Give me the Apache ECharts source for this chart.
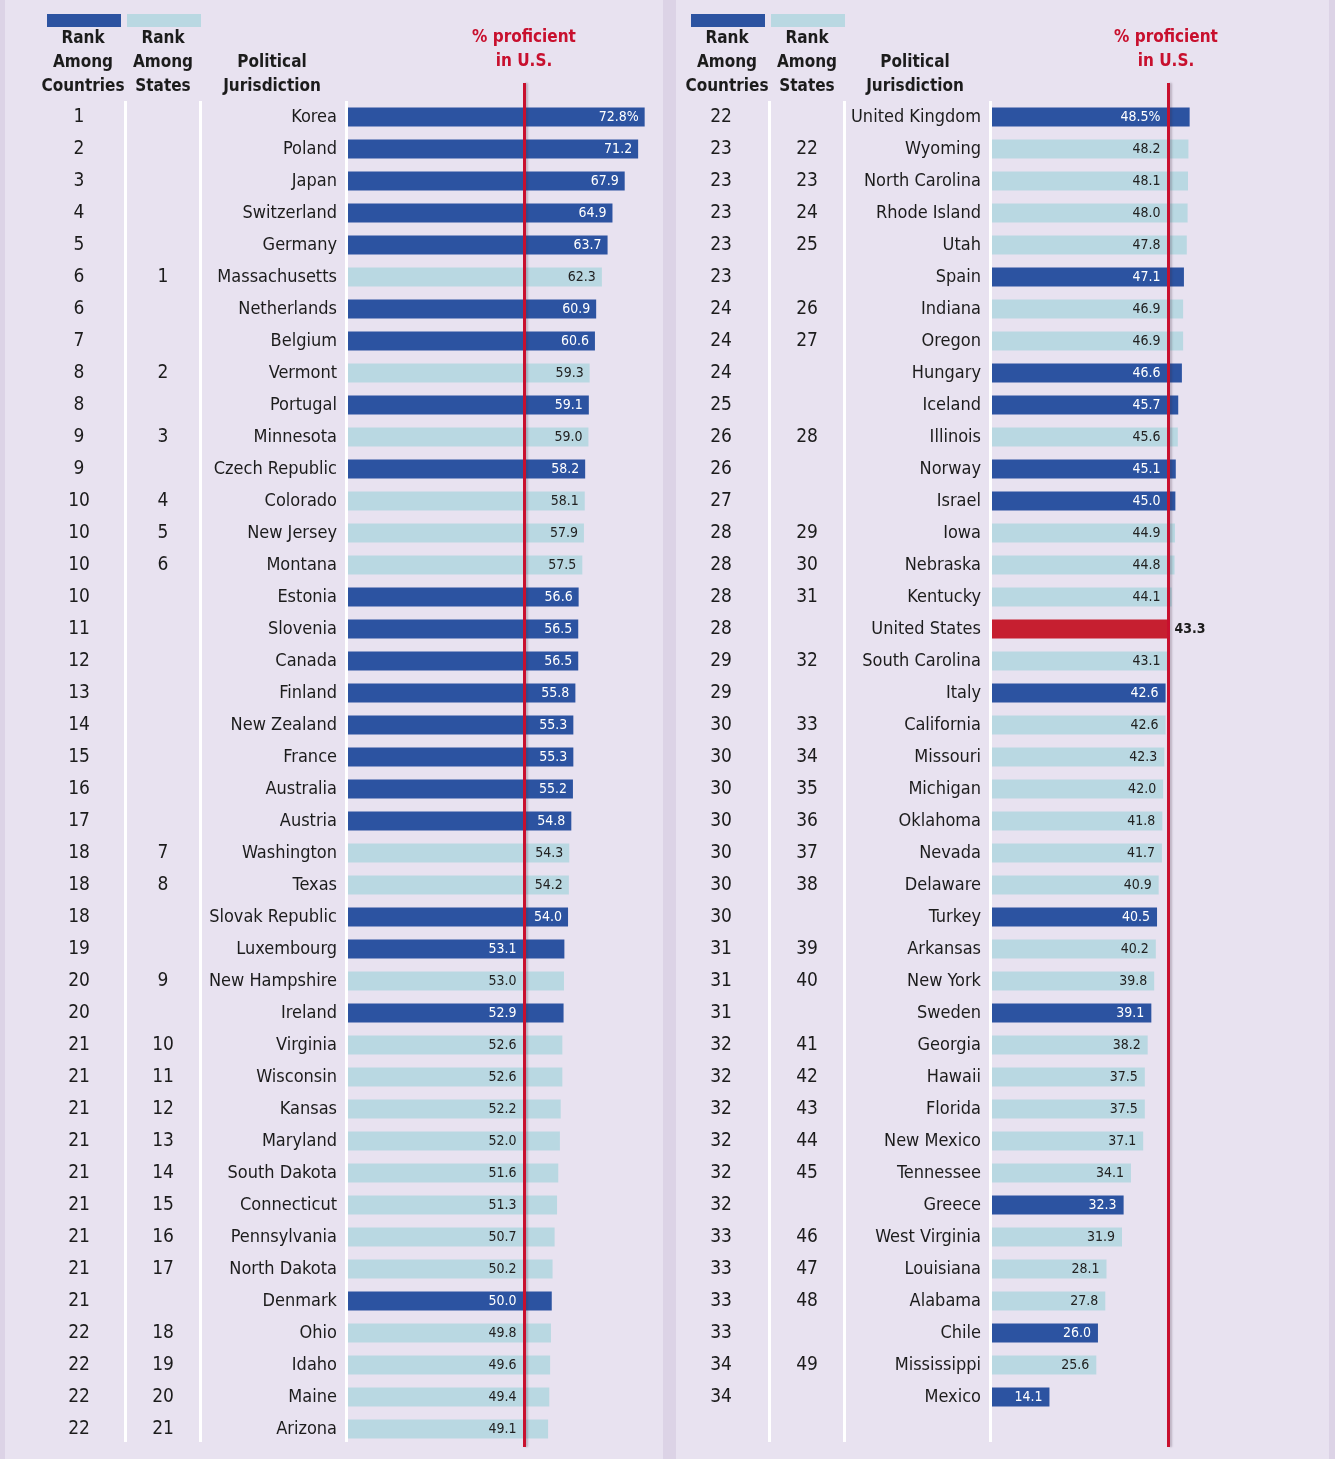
<!DOCTYPE html>
<html lang="en">
<head>
	<meta charset="UTF-8">
	<title>% proficient in U.S.</title>
	<script src="https://cdn.jsdelivr.net/npm/echarts@6/dist/echarts.min.js"></script>
	<style>
		html, body { margin: 0; padding: 0; background: #e8e2f0; }
		#charts { width: 1335px; height: 1459px; }
	</style>
</head>
<body>
<div id="charts"></div>
<script>
// left column
var leftNames = ['Korea', 'Poland', 'Japan', 'Switzerland', 'Germany', 'Massachusetts', 'Netherlands', 'Belgium',
	'Vermont', 'Portugal', 'Minnesota', 'Czech Republic', 'Colorado', 'New Jersey', 'Montana', 'Estonia',
	'Slovenia', 'Canada', 'Finland', 'New Zealand', 'France', 'Australia', 'Austria', 'Washington', 'Texas',
	'Slovak Republic', 'Luxembourg', 'New Hampshire', 'Ireland', 'Virginia', 'Wisconsin', 'Kansas', 'Maryland',
	'South Dakota', 'Connecticut', 'Pennsylvania', 'North Dakota', 'Denmark', 'Ohio', 'Idaho', 'Maine', 'Arizona'];
var leftValues = [72.8, 71.2, 67.9, 64.9, 63.7, 62.3, 60.9, 60.6, 59.3, 59.1, 59.0, 58.2, 58.1, 57.9, 57.5, 56.6,
	56.5, 56.5, 55.8, 55.3, 55.3, 55.2, 54.8, 54.3, 54.2, 54.0, 53.1, 53.0, 52.9, 52.6, 52.6, 52.2, 52.0,
	51.6, 51.3, 50.7, 50.2, 50.0, 49.8, 49.6, 49.4, 49.1];
// c = country, s = state, u = United States
var leftKinds = ['c', 'c', 'c', 'c', 'c', 's', 'c', 'c', 's', 'c', 's', 'c', 's', 's', 's', 'c',
	'c', 'c', 'c', 'c', 'c', 'c', 'c', 's', 's', 'c', 'c', 's', 'c', 's', 's', 's', 's',
	's', 's', 's', 's', 'c', 's', 's', 's', 's'];
var leftCountryRank = ['1', '2', '3', '4', '5', '6', '6', '7', '8', '8', '9', '9', '10', '10', '10', '10',
	'11', '12', '13', '14', '15', '16', '17', '18', '18', '18', '19', '20', '20', '21', '21', '21', '21',
	'21', '21', '21', '21', '21', '22', '22', '22', '22'];
var leftStateRank = ['', '', '', '', '', '1', '', '', '2', '', '3', '', '4', '5', '6', '',
	'', '', '', '', '', '', '', '7', '8', '', '', '9', '', '10', '11', '12', '13',
	'14', '15', '16', '17', '', '18', '19', '20', '21'];

// right column
var rightNames = ['United Kingdom', 'Wyoming', 'North Carolina', 'Rhode Island', 'Utah', 'Spain', 'Indiana',
	'Oregon', 'Hungary', 'Iceland', 'Illinois', 'Norway', 'Israel', 'Iowa', 'Nebraska', 'Kentucky',
	'United States', 'South Carolina', 'Italy', 'California', 'Missouri', 'Michigan', 'Oklahoma', 'Nevada',
	'Delaware', 'Turkey', 'Arkansas', 'New York', 'Sweden', 'Georgia', 'Hawaii', 'Florida', 'New Mexico',
	'Tennessee', 'Greece', 'West Virginia', 'Louisiana', 'Alabama', 'Chile', 'Mississippi', 'Mexico'];
var rightValues = [48.5, 48.2, 48.1, 48.0, 47.8, 47.1, 46.9, 46.9, 46.6, 45.7, 45.6, 45.1, 45.0, 44.9, 44.8, 44.1,
	43.3, 43.1, 42.6, 42.6, 42.3, 42.0, 41.8, 41.7, 40.9, 40.5, 40.2, 39.8, 39.1, 38.2, 37.5, 37.5, 37.1,
	34.1, 32.3, 31.9, 28.1, 27.8, 26.0, 25.6, 14.1];
var rightKinds = ['c', 's', 's', 's', 's', 'c', 's', 's', 'c', 'c', 's', 'c', 'c', 's', 's', 's',
	'u', 's', 'c', 's', 's', 's', 's', 's', 's', 'c', 's', 's', 'c', 's', 's', 's', 's',
	's', 'c', 's', 's', 's', 'c', 's', 'c'];
var rightCountryRank = ['22', '23', '23', '23', '23', '23', '24', '24', '24', '25', '26', '26', '27', '28', '28', '28',
	'28', '29', '29', '30', '30', '30', '30', '30', '30', '30', '31', '31', '31', '32', '32', '32', '32',
	'32', '32', '33', '33', '33', '33', '34', '34'];
var rightStateRank = ['', '22', '23', '24', '25', '', '26', '27', '', '', '28', '', '', '29', '30', '31',
	'', '32', '', '33', '34', '35', '36', '37', '38', '', '39', '40', '', '41', '42', '43', '44',
	'45', '', '46', '47', '48', '', '49', ''];

var FONT = "'Liberation Sans Narrow', 'DejaVu Sans Condensed', 'Roboto Condensed', 'Liberation Sans', sans-serif";
var INK = '#1c1c1c';
var COLORS = { c: '#2c53a1', s: '#b9d8e2', u: '#c61f30' };
var LINE_RED = '#c8102e';
var ROW = 32;
var X_MAX = 80;
var X_WIDTH = 326;

(function(echarts) {
	var charts = echarts.init(document.getElementById('charts'));

	var usValue = rightValues[rightKinds.indexOf('u')];
	var pxPerUnit = X_WIDTH / X_MAX;
	var linePx = usValue * pxPerUnit;

	var grid = [], xAxis = [], yAxis = [], series = [], graphic = [];

	function panel(zeroX, names, values, kinds, cRank, sRank, cCenter, sCenter) {
		var gi = grid.length;
		grid.push({ left: zeroX, top: 101, width: X_WIDTH, height: names.length * ROW });
		xAxis.push({ type: 'value', gridIndex: gi, min: 0, max: X_MAX, show: false });

		var yi = yAxis.length;
		var base = {
			type: 'category', gridIndex: gi, inverse: true, position: 'left',
			axisLine: { show: false }, axisTick: { show: false }, splitLine: { show: false }
		};
		yAxis.push(echarts.util.merge({
			data: names,
			axisLabel: { margin: 11, fontSize: 18, color: INK, fontFamily: FONT }
		}, base));
		yAxis.push(echarts.util.merge({
			data: sRank, offset: zeroX - sCenter,
			axisLabel: { margin: 0, align: 'center', fontSize: 19, color: INK, fontFamily: FONT }
		}, base));
		yAxis.push(echarts.util.merge({
			data: cRank, offset: zeroX - cCenter,
			axisLabel: { margin: 0, align: 'center', fontSize: 19, color: INK, fontFamily: FONT }
		}, base));

		var data = values.map(function(v, i) {
			var k = kinds[i];
			var endPx = v * pxPerUnit;
			// labels that would crowd the red line sit just left of it
			var dist = endPx - linePx >= 42 ? 6 : Math.max(7, endPx - linePx + 8);
			var lbl = {
				show: true, position: 'insideRight', distance: dist,
				fontSize: 14, fontFamily: FONT,
				color: k === 'c' ? '#ffffff' : '#222222',
				formatter: i === 0 ? v.toFixed(1) + '%' : v.toFixed(1)
			};
			if (k === 'u') {
				lbl.position = 'right';
				lbl.distance = 6;
				lbl.fontWeight = 'bold';
				lbl.color = '#1c1c1c';
			}
			return { value: v, itemStyle: { color: COLORS[k] }, label: lbl };
		});
		series.push({
			type: 'bar', xAxisIndex: gi, yAxisIndex: yi,
			barWidth: 19, data: data, silent: true, z: 2
		});

		// overlay grid for the red reference line, a bit taller than the bars
		var oi = grid.length;
		grid.push({ left: zeroX, top: 83, width: X_WIDTH, height: 1364 });
		xAxis.push({ type: 'value', gridIndex: oi, min: 0, max: X_MAX, show: false });
		var oy = yAxis.length;
		yAxis.push({ type: 'value', gridIndex: oi, min: 0, max: 1, show: false });
		series.push({
			type: 'line', xAxisIndex: oi, yAxisIndex: oy, data: [], z: 5,
			markLine: {
				silent: true, symbol: 'none', label: { show: false },
				lineStyle: {
					color: LINE_RED, width: 3, type: 'solid',
					shadowColor: 'rgba(60,40,60,0.25)', shadowBlur: 2, shadowOffsetX: 2
				},
				data: [{ xAxis: usValue }]
			}
		});
	}

	panel(348, leftNames, leftValues, leftKinds, leftCountryRank, leftStateRank, 79, 163);
	panel(992, rightNames, rightValues, rightKinds, rightCountryRank, rightStateRank, 721, 807);

	// page furniture: side strips, separators, legend swatches, headers
	[[0, 5], [663, 13], [1329, 6]].forEach(function(s) {
		graphic.push({ type: 'rect', z: -10, shape: { x: s[0], y: 0, width: s[1], height: 1459 }, style: { fill: '#dcd3e6' } });
	});
	[124, 199, 345, 768, 843, 989].forEach(function(x) {
		graphic.push({ type: 'rect', z: 1, shape: { x: x, y: 101, width: 3, height: 1341 }, style: { fill: '#ffffff' } });
	});
	[[47, '#2c53a1'], [127, '#b9d8e2'], [691, '#2c53a1'], [771, '#b9d8e2']].forEach(function(s) {
		graphic.push({ type: 'rect', shape: { x: s[0], y: 14, width: 74, height: 13 }, style: { fill: s[1] } });
	});
	function header(text, x, y, color) {
		graphic.push({
			type: 'text', z: 3,
			style: {
				text: text, x: x, y: y, textAlign: 'center', textVerticalAlign: 'top',
				fontSize: 17, fontWeight: 'bold', fontFamily: FONT, lineHeight: 24, fill: color
			}
		});
	}
	header('Rank\nAmong\nCountries', 83, 27, INK);
	header('Rank\nAmong\nStates', 163, 27, INK);
	header('Political\nJurisdiction', 272, 51, INK);
	header('% proficient\nin U.S.', 524, 26, LINE_RED);
	header('Rank\nAmong\nCountries', 727, 27, INK);
	header('Rank\nAmong\nStates', 807, 27, INK);
	header('Political\nJurisdiction', 915, 51, INK);
	header('% proficient\nin U.S.', 1166, 26, LINE_RED);

	charts.setOption({
		backgroundColor: '#e8e2f0',
		animation: false,
		grid: grid,
		xAxis: xAxis,
		yAxis: yAxis,
		series: series,
		graphic: graphic
	});

	window.onresize = function() {
		charts.resize();
	};
})(echarts);
</script>
</body>
</html>
